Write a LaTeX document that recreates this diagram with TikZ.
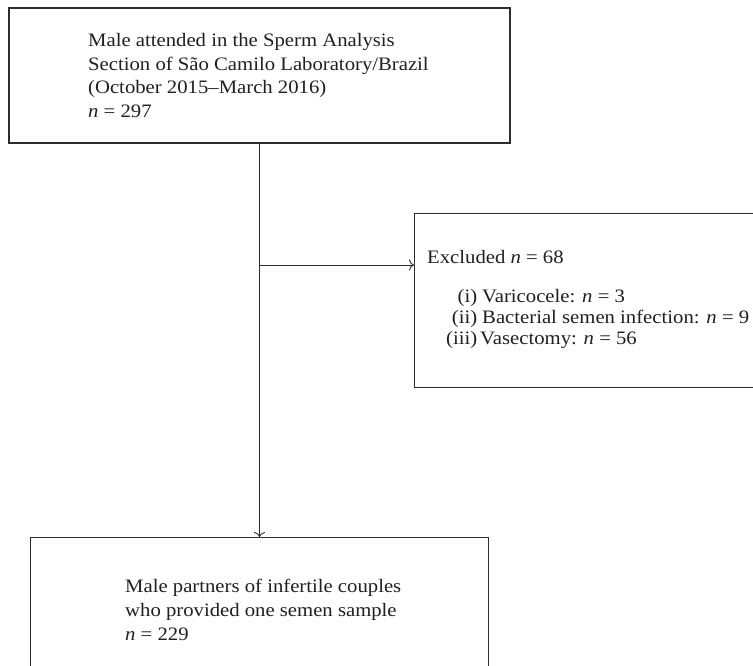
\documentclass[tikz,border=0pt]{standalone}
\usepackage{fontspec}
\setmainfont[FakeStretch=1.09]{Liberation Serif}
\usetikzlibrary{arrows.meta}
\definecolor{linec}{RGB}{45,45,45}
\definecolor{textc}{RGB}{35,31,32}
\newcommand{\nn}{\textit{n}}
\begin{document}
\begin{tikzpicture}[x=1pt,y=-1pt,
  box/.style={draw=linec, line width=1.3pt, rectangle, inner sep=0pt},
  txt/.style={text=textc, font=\fontsize{19}{23.4}\selectfont, align=left, inner sep=0pt},
  conn/.style={draw=linec, line width=0.9pt},
  arr/.style={conn, -{To[length=5pt,width=11pt]}}]
\clip (0,0) rectangle (753,665);
\fill[white] (0,0) rectangle (753,665);
% boxes
\node[box, minimum width=501, minimum height=135] (top) at (259.5,75.5) {};
\node[box, minimum width=400, minimum height=174, anchor=north west] (excl) at (414,213) {};
\node[box, minimum width=458, minimum height=200, anchor=north] (bot) at (259.5,537) {};
% texts (anchored at the baseline of the last line)
\node[txt, anchor=base west] (toptext) at (88,117) {Male attended in the Sperm Analysis\\Section of São Camilo Laboratory/Brazil\\(October 2015–March 2016)\\\nn{} = 297};
\node[txt, anchor=base west] (exhead) at (427,263) {Excluded \nn{} = 68};
\node[txt, anchor=base west, font=\fontsize{19}{21}\selectfont] (exlist) at (447,344) {%
\makebox[30pt][r]{(i)}\hspace{5pt}Varicocele: \nn{} = 3\\
\makebox[30pt][r]{(ii)}\hspace{5pt}Bacterial semen infection: \nn{} = 9\\
\makebox[30pt][r]{(iii)}\hspace{3pt}Vasectomy: \nn{} = 56};
\node[txt, anchor=base west, font=\fontsize{19}{24}\selectfont] (bottext) at (125,640) {Male partners of infertile couples\\who provided one semen sample\\\nn{} = 229};
% connectors
\coordinate (br) at (259.5,265);
\draw[arr] (top.south) -- (bot.north);
\draw[arr] (br) -- (excl.west |- br);
\end{tikzpicture}
\end{document}
